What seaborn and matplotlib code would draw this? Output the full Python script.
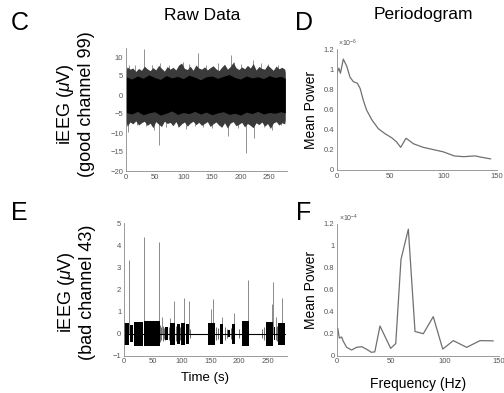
import matplotlib
matplotlib.use('Agg')
import matplotlib.pyplot as plt
from matplotlib.ticker import FormatStrFormatter
import seaborn as sns
import numpy as np

# ---- Panel C: good channel raw data (envelopes) ----
core_t = [0, 10, 20, 30, 40, 50, 60, 70, 80, 90, 100, 110, 120, 130, 140,
          150, 160, 170, 180, 190, 200, 210, 220, 230, 240, 250, 260, 270, 278]
core_hi = [4.8, 4.2, 5.0, 4.4, 5.3, 4.6, 4.1, 5.1, 4.5, 4.9, 4.3, 5.2, 4.7, 4.0, 4.8,
           5.0, 4.4, 4.9, 5.4, 4.6, 4.2, 5.0, 4.5, 4.8, 4.3, 5.1, 4.6, 4.9, 4.4]
core_lo = [-4.6, -5.0, -4.3, -5.2, -4.7, -4.4, -5.3, -4.8, -4.2, -5.1, -4.6, -4.9, -4.3, -5.0, -4.5,
           -5.2, -4.7, -4.4, -5.1, -4.8, -5.3, -4.5, -4.9, -4.3, -5.0, -4.6, -4.8, -4.4, -4.7]

fringe_t = [0, 2, 7, 12, 17, 22, 27, 32, 37, 42, 47, 52, 57, 62, 67, 72, 77, 82, 87, 92, 97,
            102, 107, 112, 117, 122, 127, 132, 137, 142, 147, 152, 157, 162, 167, 172, 177,
            182, 187, 192, 197, 202, 207, 212, 217, 222, 227, 232, 237, 242, 247, 252, 257,
            262, 267, 272, 277, 278]
fringe_hi = [6.5, 7.4, 6.8, 7.1, 6.2, 7.0, 6.5, 7.6, 6.9, 6.4, 7.2, 6.6, 7.8, 7.0, 6.3, 7.5, 6.8,
             7.3, 6.6, 7.9, 8.4, 7.0, 6.7, 7.6, 6.5, 7.9, 7.1, 6.8, 7.4, 6.6, 7.2, 7.7, 6.9,
             6.4, 7.3, 8.1, 6.8, 7.5, 8.6, 7.2, 6.7, 7.4, 6.9, 7.8, 7.1, 8.3, 6.6, 7.5, 7.0,
             6.8, 7.9, 7.2, 6.5, 7.6, 6.9, 7.3, 6.8, 6.0]
fringe_lo = [-7.0, -8.2, -7.1, -7.6, -6.8, -7.9, -7.3, -6.9, -8.0, -7.4, -8.6, -7.0, -7.7, -8.3, -6.9,
             -7.5, -7.2, -8.1, -7.0, -8.4, -7.6, -7.1, -8.2, -7.4, -6.9, -7.8, -7.2, -8.0, -7.5,
             -7.0, -8.3, -7.6, -7.1, -7.9, -8.5, -7.3, -8.7, -7.4, -7.0, -8.1, -7.7, -7.2, -8.4,
             -7.5, -8.0, -8.6, -7.3, -7.8, -7.1, -8.2, -7.5, -8.8, -7.4, -7.0, -7.9, -7.3, -7.6, -6.5]

spike_up_t = [5, 15, 32, 45, 60, 75, 99, 110, 126, 140, 160, 183, 188, 200, 222, 235, 248, 265]
spike_up_v = [8.0, 7.8, 12.0, 8.0, 8.3, 7.9, 8.8, 8.2, 11.0, 8.0, 8.4, 10.5, 8.8, 8.1, 9.2, 8.3, 8.2, 7.9]
spike_dn_t = [3, 20, 35, 48, 57, 70, 90, 105, 120, 135, 150, 165, 178, 195, 209, 224, 240, 254, 270]
spike_dn_v = [-9.7, -8.0, -8.2, -9.3, -13.2, -8.5, -8.3, -9.0, -8.1, -8.4, -8.6, -8.2, -10.8,
              -8.7, -15.3, -11.4, -8.5, -9.3, -8.0]

# ---- Panel D: periodogram good channel (x 1e-6) ----
freq_d = [0, 2, 3.5, 6.2, 9.4, 12.5, 15.6, 19.4, 21.9, 25, 28, 32.8, 39, 45.3, 51.5, 56,
          60, 65, 72, 81, 100, 110, 119, 129.7, 136, 144.4]
power_d = [0.95, 1.01, 0.96, 1.10, 1.03, 0.92, 0.876, 0.86, 0.81, 0.69, 0.595, 0.5, 0.41,
           0.36, 0.32, 0.28, 0.225, 0.315, 0.26, 0.225, 0.18, 0.14, 0.132, 0.14, 0.126, 0.11]

# ---- Panel E: bad channel raw data ----
burst_start = [0, 10, 18, 35, 72, 80, 92.5, 99, 107.5, 146, 166.5, 181, 188, 204, 246.5, 260, 268]
burst_end = [9, 16, 33.5, 62.5, 77, 88.5, 97, 106, 113.5, 158, 172.5, 184, 192.5, 217, 259, 262, 279]
burst_top = [0.5, 0.4, 0.52, 0.55, 0.3, 0.5, 0.45, 0.5, 0.45, 0.48, 0.45, 0.15, 0.42, 0.55, 0.52, 0.3, 0.5]
burst_bot = [-0.5, -0.4, -0.55, -0.58, -0.3, -0.5, -0.45, -0.5, -0.45, -0.5, -0.45, -0.15,
             -0.45, -0.55, -0.55, -0.3, -0.5]
sparse_t = [63, 65, 67, 69, 71, 78, 90, 98, 115, 160, 163, 175, 178, 186, 200, 240, 243, 264, 266]
sparse_amp = [0.4, 0.3, 0.35, 0.25, 0.3, 0.3, 0.35, 0.3, 0.2, 0.3, 0.25, 0.3, 0.2, 0.25, 0.2,
              0.2, 0.3, 0.3, 0.35]
baseline_t = [0, 279]
baseline_v = [0.0, 0.0]
spike_t_e = [9.3, 34.7, 61.3, 66.7, 80, 86.8, 104.7, 112.8, 150.5, 155, 169.6, 191, 215.8,
             256, 258, 264.5, 275]
spike_v_e = [3.33, 4.4, 4.15, 0.75, 0.7, 1.5, 1.6, 1.5, 1.1, 1.55, 0.75, 0.95, 2.45, 1.35,
             2.35, 0.75, 1.62]

# ---- Panel F: periodogram bad channel (x 1e-4) ----
freq_f = [0.4, 1.9, 4, 5.6, 8.7, 13.3, 17.9, 22.6, 27, 31.6, 34.8, 39.6, 49.5, 54.2, 59.1,
          65.9, 72.1, 79.8, 89, 97.8, 107.6, 120, 132.4, 144.7]
power_f = [0.25, 0.16, 0.17, 0.13, 0.076, 0.052, 0.076, 0.082, 0.06, 0.031, 0.035, 0.27,
           0.067, 0.11, 0.877, 1.15, 0.22, 0.2, 0.355, 0.06, 0.137, 0.076, 0.137, 0.135]

sns.set_style('white')
plt.rcParams['font.family'] = ['Liberation Sans', 'DejaVu Sans']
plt.rcParams['mathtext.fontset'] = 'custom'
plt.rcParams['mathtext.it'] = 'Liberation Sans:italic'
plt.rcParams['mathtext.rm'] = 'Liberation Sans'
plt.rcParams['text.color'] = 'black'
plt.rcParams['axes.labelcolor'] = 'black'

W, H = 504, 393
fig = plt.figure(figsize=(W / 100, H / 100), dpi=100)


def px_axes(x0, x1, ytop, ybot):
    return fig.add_axes([x0 / W, 1 - ybot / H, (x1 - x0) / W, (ybot - ytop) / H])


def style(ax):
    for s in ['top', 'right']:
        ax.spines[s].set_visible(False)
    for s in ['left', 'bottom']:
        ax.spines[s].set_color('#8a8a8a')
        ax.spines[s].set_linewidth(0.6)
    ax.tick_params(direction='in', length=2, width=0.5, labelsize=5.5,
                   colors='#8a8a8a', labelcolor='#555555', pad=2)


grey = '#707070'

# C
axC = px_axes(126, 287, 47.5, 171)
axC.vlines(spike_up_t, 0, spike_up_v, color='#808080', lw=0.6, zorder=0.5)
axC.vlines(spike_dn_t, spike_dn_v, 0, color='#808080', lw=0.6, zorder=0.5)
axC.fill_between(fringe_t, fringe_lo, fringe_hi, color='#3a3a3a', lw=0, zorder=1)
axC.fill_between(core_t, core_lo, core_hi, color='black', lw=0, zorder=1.5)
axC.set_xlim(0, 281)
axC.set_ylim(-20, 12.5)
axC.set_yticks([-20, -15, -10, -5, 0, 5, 10])
axC.set_xticks([0, 50, 100, 150, 200, 250])
style(axC)

# D
axD = px_axes(336.7, 496.7, 49, 170)
sns.lineplot(x=freq_d, y=power_d, ax=axD, color=grey, lw=0.9)
axD.set_xlim(0, 150)
axD.set_ylim(0, 1.2)
axD.set_yticks([0, 0.2, 0.4, 0.6, 0.8, 1.0, 1.2])
axD.set_xticks([0, 50, 100, 150])
axD.yaxis.set_major_formatter(FormatStrFormatter('%g'))
axD.set_ylabel('Mean Power', fontsize=10, labelpad=4)
axD.text(0.01, 1.0, r'$\times10^{-6}$', transform=axD.transAxes, fontsize=5,
         color='#555555', va='bottom')
style(axD)

# E
axE = px_axes(124, 286.5, 223.3, 355.7)
sns.lineplot(x=baseline_t, y=baseline_v, ax=axE, color='black', lw=0.8)
axE.vlines(sparse_t, -np.array(sparse_amp), sparse_amp, color='#555555', lw=0.6, zorder=0.5)
for s0, s1, top, bot in zip(burst_start, burst_end, burst_top, burst_bot):
    axE.fill_between([s0, s1], [bot, bot], [top, top], color='black', lw=0, zorder=1.5)
axE.vlines(spike_t_e, 0, spike_v_e, color='#777777', lw=0.6, zorder=0.5)
axE.set_xlim(0, 282)
axE.set_ylim(-1, 5)
axE.set_yticks([-1, 0, 1, 2, 3, 4, 5])
axE.set_xticks([0, 50, 100, 150, 200, 250])
axE.set_xlabel('Time (s)', fontsize=9.5, labelpad=5)
style(axE)

# F
axF = px_axes(337.3, 499, 223.7, 355.7)
sns.lineplot(x=freq_f, y=power_f, ax=axF, color=grey, lw=0.9)
axF.set_xlim(0, 150)
axF.set_ylim(0, 1.2)
axF.set_yticks([0, 0.2, 0.4, 0.6, 0.8, 1.0, 1.2])
axF.set_xticks([0, 50, 100, 150])
axF.yaxis.set_major_formatter(FormatStrFormatter('%g'))
axF.set_ylabel('Mean Power', fontsize=10, labelpad=4)
axF.set_xlabel('Frequency (Hz)', fontsize=10, labelpad=8)
axF.text(0.01, 1.0, r'$\times10^{-4}$', transform=axF.transAxes, fontsize=5,
         color='#555555', va='bottom')
style(axF)

# titles, panel letters and two-line y labels
fig.text(202 / W, 1 - 15 / H, 'Raw Data', fontsize=12.5, ha='center', va='center')
fig.text(423 / W, 1 - 14 / H, 'Periodogram', fontsize=12.5, ha='center', va='center')
for letter, x, y in [('C', 20, 23), ('D', 304, 23), ('E', 19, 213), ('F', 304, 213)]:
    fig.text(x / W, 1 - y / H, letter, fontsize=18, ha='center', va='center')

fig.text(75 / W, 1 - 104 / H, 'iEEG ($\\mathit{\\mu}$V)\n(good channel 99)', fontsize=13,
         rotation=90, ha='center', va='center', multialignment='center', linespacing=1.1)
fig.text(76 / W, 1 - 292 / H, 'iEEG ($\\mathit{\\mu}$V)\n(bad channel 43)', fontsize=13,
         rotation=90, ha='center', va='center', multialignment='center', linespacing=1.1)

fig.savefig('out.png', dpi=100)
